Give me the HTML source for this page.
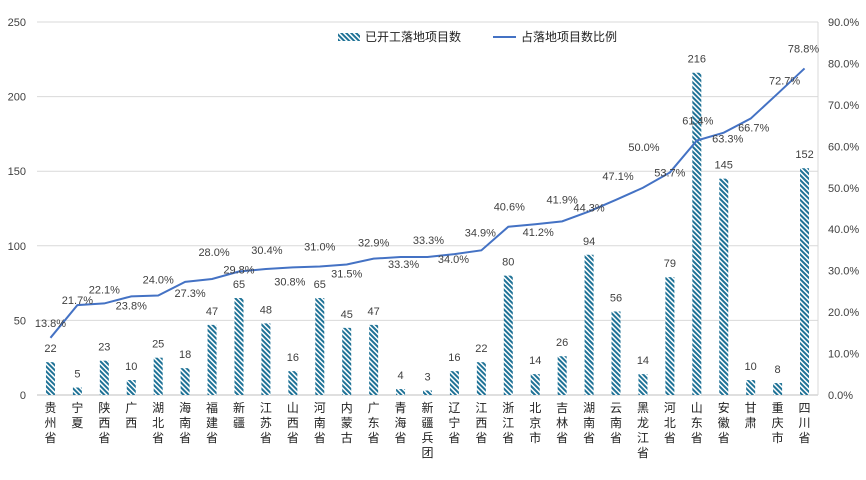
<!DOCTYPE html>
<html><head><meta charset="utf-8">
<style>
body{margin:0;background:#fff;}
svg text{font-family:"Liberation Sans","Noto Sans CJK SC",sans-serif;fill:#404040;}
</style></head>
<body>
<svg id="chart" width="866" height="475" viewBox="0 0 866 475">
<defs>
<pattern id="hatch" width="3.5" height="3.5" patternUnits="userSpaceOnUse" patternTransform="rotate(-45)">
<rect width="3.5" height="3.5" fill="#ffffff"/>
<rect width="2" height="3.5" fill="#1f7296"/>
</pattern>
</defs>
<g id="grid"></g><g id="bars"></g><g id="line"></g><g id="labels"></g>
</svg>
<script>
const categories=["贵州省","宁夏","陕西省","广西","湖北省","海南省","福建省","新疆","江苏省","山西省","河南省","内蒙古","广东省","青海省","新疆兵团","辽宁省","江西省","浙江省","北京市","吉林省","湖南省","云南省","黑龙江省","河北省","山东省","安徽省","甘肃","重庆市","四川省"];
const projects=[22,5,23,10,25,18,47,65,48,16,65,45,47,4,3,16,22,80,14,26,94,56,14,79,216,145,10,8,152];
const ratios=[13.8,21.7,22.1,23.8,24.0,27.3,28.0,29.8,30.4,30.8,31.0,31.5,32.9,33.3,33.3,34.0,34.9,40.6,41.2,41.9,44.3,47.1,50.0,53.7,61.4,63.3,66.7,72.7,78.8];
const leftTicks=[0,50,100,150,200,250];
const rightTicks=[0,10,20,30,40,50,60,70,80,90];
// label placement offsets (styling)
const labelDy=[-15,-5,-14,9,-16,11,-27,-2,-19,14,-20,9,-16,7,-17,5,-18,-20,8,-22,-4,-24,-41,0,-20,6,9,-13,-20];
const labelDx=[0,0,0,0,0,5,2,0,1,-3,0,0,0,3,1,-1,-1,1,3,0,0,2,1,0,1,4,3,7,-1];

const NS="http://www.w3.org/2000/svg";
const X0=37,X1=818,Y0=395,Y1=22;
const step=(X1-X0)/categories.length;
const xc=i=>X0+step*(i+0.5);
const yL=v=>Y0-(v/250)*(Y0-Y1);
const yR=v=>Y0-(v/90)*(Y0-Y1);
function mk(tag,attrs,parent,txt){const e=document.createElementNS(NS,tag);for(const k in attrs)e.setAttribute(k,attrs[k]);if(txt!==undefined)e.textContent=txt;parent.appendChild(e);return e;}
const svg=document.getElementById('chart');
const grid=document.getElementById('grid'),bars=document.getElementById('bars'),line=document.getElementById('line'),labels=document.getElementById('labels');

leftTicks.forEach(t=>{
  const g=mk('line',{x1:X0,x2:X1,y1:yL(t),y2:yL(t),stroke:t===0?'#bfbfbf':'#d9d9d9','stroke-width':1},grid);
  
  
  const tx=mk('text',{x:26,y:yL(t)+4,'text-anchor':'end','font-size':11},labels,String(t));
  
  
});
const rb=mk('line',{x1:X1,x2:X1,y1:Y1,y2:Y0,stroke:'#d9d9d9','stroke-width':1},grid);


rightTicks.forEach(t=>{
  const tx=mk('text',{x:828,y:yR(t)+4,'text-anchor':'start','font-size':11},labels,t.toFixed(1)+'%');
  
  
});

projects.forEach((v,i)=>{
  const w=9;
  const r=mk('rect',{x:xc(i)-w/2,y:yL(v),width:w,height:Y0-yL(v),fill:'url(#hatch)'},bars);
  
  
  const t=mk('text',{x:xc(i),y:yL(v)-10,'text-anchor':'middle','font-size':11},labels,String(v));
  
  
  const chars=[...categories[i]];
  chars.forEach((c,k)=>{
    const ct=mk('text',{x:xc(i),y:412+k*15,'text-anchor':'middle','font-size':12,style:'fill:#222'},labels,c);
    
    
  });
});

const pts=ratios.map((v,i)=>xc(i)+','+yR(v)).join(' ');
const pl=mk('polyline',{points:pts,fill:'none',stroke:'#4472c4','stroke-width':2},line);


ratios.forEach((v,i)=>{
  const t=mk('text',{x:xc(i)+labelDx[i],y:yR(v)+labelDy[i]+4,'text-anchor':'middle','font-size':11},labels,v.toFixed(1)+'%');
  
  
});

const lg=mk('g',{},svg);


const ls=mk('rect',{x:338,y:33,width:22,height:8,fill:'url(#hatch)'},lg);


const lt=mk('text',{x:365,y:41,'font-size':12,style:'fill:#222'},lg,'已开工落地项目数');


const ll=mk('line',{x1:493,x2:516,y1:37,y2:37,stroke:'#4472c4','stroke-width':2},lg);


const lt2=mk('text',{x:521,y:41,'font-size':12,style:'fill:#222'},lg,'占落地项目数比例');


</script>
</body></html>
